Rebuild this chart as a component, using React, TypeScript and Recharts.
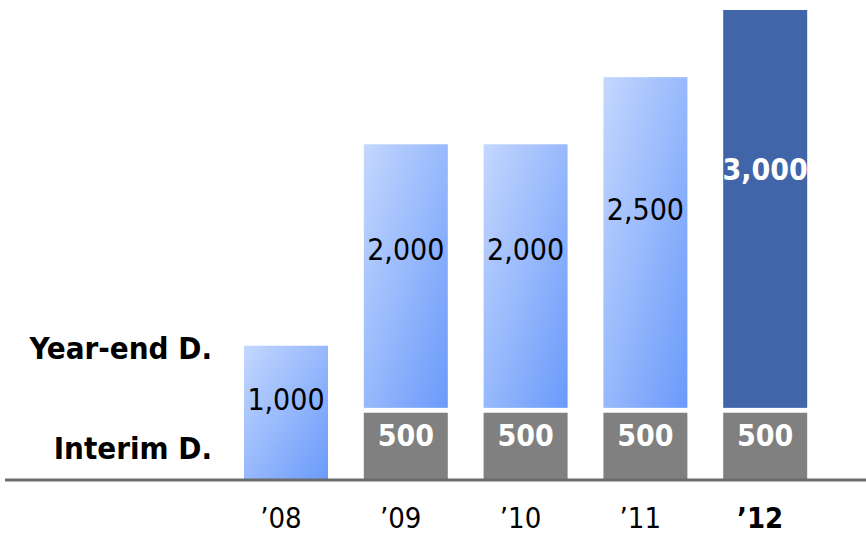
import React from 'react';
import { BarChart, Bar, XAxis, YAxis, Cell, LabelList } from 'recharts';

// Dividend per share by fiscal year
const years = ['’08', '’09', '’10', '’11', '’12'];
const interimDividend = [0, 500, 500, 500, 500];
const yearEndDividend = [1000, 2000, 2000, 2500, 3000];
const rowLabels = ['Interim D.', 'Year-end D.'];
const rowLabelTicks = [250, 1000];

const data = years.map((year, i) => ({
  year,
  interim: interimDividend[i],
  yearEnd: yearEndDividend[i],
}));

const FONT = "'DejaVu Sans Condensed', 'DejaVu Sans', sans-serif";
const GAP = 5;
const LAST = years.length - 1;

// year-end segment, leaving a white gap above the interim segment
const YearEndShape = (props: any) => {
  const { x, y, width, height, fill, payload } = props;
  const h = payload && payload.interim > 0 ? height - GAP : height;
  if (!(h > 0)) return null;
  return <rect x={x} y={y} width={width} height={h} fill={fill} />;
};

const YearEndLabel = (props: any) => {
  const { x, y, width, height, value, index } = props;
  const h = data[index].interim > 0 ? height - GAP : height;
  const bottom = y + h;
  const last = index === LAST;
  return (
    <text
      x={x + width / 2}
      y={bottom - h * 0.6}
      textAnchor="middle"
      dominantBaseline="central"
      fontFamily={FONT}
      fontSize={30}
      fontWeight={last ? 'bold' : 'normal'}
      fill={last ? '#ffffff' : '#000000'}
    >
      {Number(value).toLocaleString('en-US')}
    </text>
  );
};

const InterimLabel = (props: any) => {
  const { x, y, width, height, value } = props;
  if (!value) return null;
  return (
    <text
      x={x + width / 2}
      y={y + height / 2 - 11}
      textAnchor="middle"
      dominantBaseline="central"
      fontFamily={FONT}
      fontSize={30}
      fontWeight="bold"
      fill="#ffffff"
    >
      {Number(value).toLocaleString('en-US')}
    </text>
  );
};

const YearTick = (props: any) => {
  const { x, y, payload, index } = props;
  const last = index === LAST;
  return (
    <text
      x={x - 5}
      y={y + 38}
      textAnchor="middle"
      dominantBaseline="central"
      fontFamily={FONT}
      fontSize={29}
      fontWeight={last ? 'bold' : 'normal'}
      fill="#000000"
    >
      {payload.value}
    </text>
  );
};

const RowTick = (props: any) => {
  const { y, payload } = props;
  const idx = rowLabelTicks.indexOf(payload.value);
  return (
    <text
      x={212}
      y={y + 2}
      textAnchor="end"
      dominantBaseline="central"
      fontFamily={FONT}
      fontSize={31}
      fontWeight="bold"
      fill="#000000"
    >
      {rowLabels[idx]}
    </text>
  );
};

export default function App() {
  return (
    <div style={{ position: 'absolute', left: 0, top: 0, width: 866, height: 535, background: '#ffffff' }}>
      <BarChart
        width={866}
        height={535}
        data={data}
        margin={{ top: 10, right: 0, bottom: 0, left: 4 }}
        barSize={84}
      >
        <defs>
          <linearGradient id="yearEndGrad" x1="0" y1="0" x2="1" y2="1">
            <stop offset="0%" stopColor="#c4d7fe" />
            <stop offset="100%" stopColor="#6a9afa" />
          </linearGradient>
        </defs>
        <XAxis
          dataKey="year"
          interval={0}
          height={55}
          padding={{ left: 221, right: 41 }}
          axisLine={{ stroke: '#6b6b6b', strokeWidth: 3 }}
          tickLine={false}
          tickSize={0}
          tickMargin={0}
          tick={<YearTick />}
        />
        <YAxis
          width={1}
          domain={[0, 3500]}
          ticks={rowLabelTicks}
          interval={0}
          axisLine={false}
          tickLine={false}
          tick={<RowTick />}
        />
        <Bar dataKey="interim" stackId="d" fill="#808080" isAnimationActive={false}>
          <LabelList dataKey="interim" content={<InterimLabel />} />
        </Bar>
        <Bar dataKey="yearEnd" stackId="d" shape={<YearEndShape />} isAnimationActive={false}>
          {data.map((_, i) => (
            <Cell key={i} fill={i === LAST ? '#4065a9' : 'url(#yearEndGrad)'} />
          ))}
          <LabelList dataKey="yearEnd" content={<YearEndLabel />} />
        </Bar>
      </BarChart>
    </div>
  );
}
